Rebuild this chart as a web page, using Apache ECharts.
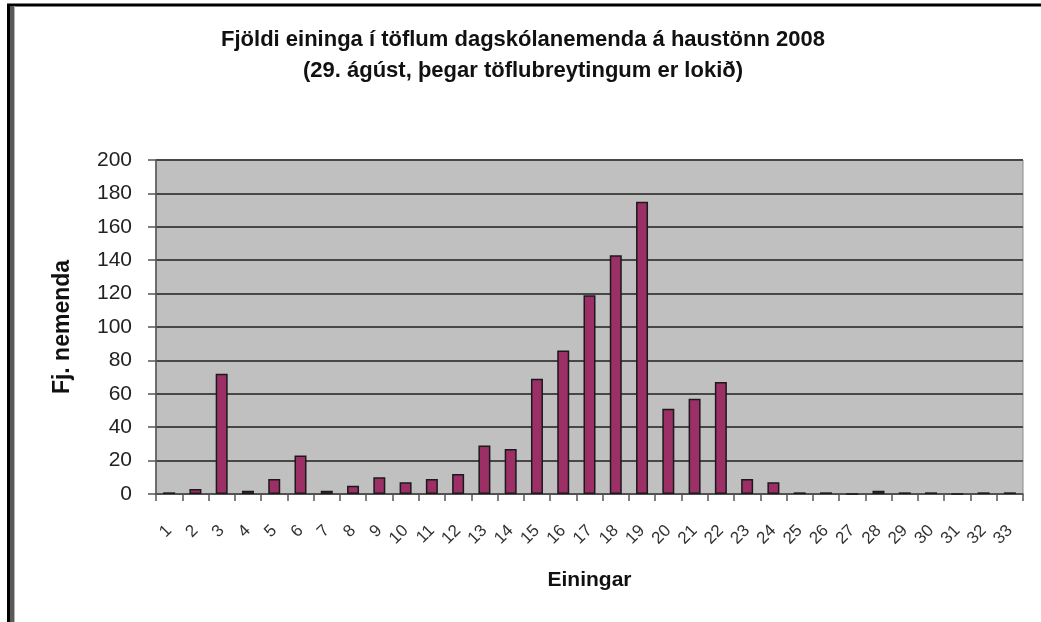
<!DOCTYPE html>
<html lang="is">
<head>
    <meta charset="UTF-8">
    <title>Fjöldi eininga</title>
    <script src="https://cdn.jsdelivr.net/npm/echarts@6/dist/echarts.min.js"></script>
    <style>
        html, body { margin: 0; padding: 0; background: #fff; }
        #chart { width: 1041px; height: 622px; }
    </style>
</head>
<body>
<div id="chart"></div>
<script>
    // einingar (flokkar á x-ás)
    var einingar = ['1','2','3','4','5','6','7','8','9','10','11','12','13','14','15','16','17',
        '18','19','20','21','22','23','24','25','26','27','28','29','30','31','32','33'];
    // fjöldi nemenda fyrir hverja einingatölu
    var fjoldi = [1, 3, 72, 2, 9, 23, 2, 5, 10, 7, 9, 12, 29, 27, 69, 86, 119, 143, 175,
        51, 57, 67, 9, 7, 1, 1, 0, 2, 1, 1, 0, 1, 1];
    var yTicks = [0, 20, 40, 60, 80, 100, 120, 140, 160, 180, 200];

    var chart = echarts.init(document.getElementById('chart'));
    var font = '"Liberation Sans", Arial, sans-serif';

    var option = {
        animation: false,
        backgroundColor: '#ffffff',
        title: {
            text: 'Fjöldi eininga í töflum dagskólanemenda á haustönn 2008\n(29. ágúst, þegar töflubreytingum er lokið)',
            left: 518,
            top: 19,
            textAlign: 'center',
            textStyle: {
                fontFamily: font,
                fontSize: 22,
                fontWeight: 'bold',
                color: '#111',
                lineHeight: 31
            }
        },
        grid: {
            left: 156,
            right: 18,
            top: 160,
            bottom: 128,
            show: true,
            backgroundColor: '#c0c0c0',
            borderColor: '#8a8a8a',
            borderWidth: 1
        },
        xAxis: {
            type: 'category',
            data: einingar,
            name: 'Einingar',
            nameLocation: 'middle',
            nameGap: 76,
            nameTextStyle: {fontFamily: font, fontSize: 21, fontWeight: 'bold', color: '#111'},
            axisLine: {lineStyle: {color: '#555', width: 1.5}},
            axisTick: {show: true, length: 7, lineStyle: {color: '#555', width: 1.5}},
            axisLabel: {
                rotate: 45,
                margin: 34,
                interval: 0,
                fontFamily: font,
                fontSize: 17,
                color: '#333'
            }
        },
        yAxis: {
            type: 'value',
            min: 0,
            max: yTicks[yTicks.length - 1],
            interval: yTicks[1] - yTicks[0],
            name: 'Fj. nemenda',
            nameLocation: 'middle',
            nameGap: 82,
            nameTextStyle: {fontFamily: font, fontSize: 23, fontWeight: 'bold', color: '#111'},
            axisLine: {show: true, lineStyle: {color: '#555', width: 1.5}},
            axisTick: {show: true, length: 8, lineStyle: {color: '#555', width: 1.5}},
            axisLabel: {margin: 24, fontFamily: font, fontSize: 21, color: '#222'},
            splitLine: {lineStyle: {color: '#474747', width: 2}}
        },
        series: [{
            type: 'bar',
            data: fjoldi,
            barWidth: 12,
            itemStyle: {
                color: '#9b2f66',
                borderColor: '#1a1a1a',
                borderWidth: 1.5
            }
        }],
        graphic: [
            // ramminn utan um myndina
            {type: 'line', shape: {x1: 7, y1: 5, x2: 1041, y2: 5}, style: {stroke: '#000', lineWidth: 3}},
            {type: 'line', shape: {x1: 8.5, y1: 5, x2: 8.5, y2: 622}, style: {stroke: '#000', lineWidth: 3}},
            {type: 'line', shape: {x1: 12, y1: 6, x2: 12, y2: 622}, style: {stroke: '#5a5a5a', lineWidth: 4}},
            {type: 'line', shape: {x1: 14.5, y1: 6, x2: 14.5, y2: 622}, style: {stroke: '#b5b5b5', lineWidth: 1}}
        ]
    };
    chart.setOption(option);
</script>
</body>
</html>
